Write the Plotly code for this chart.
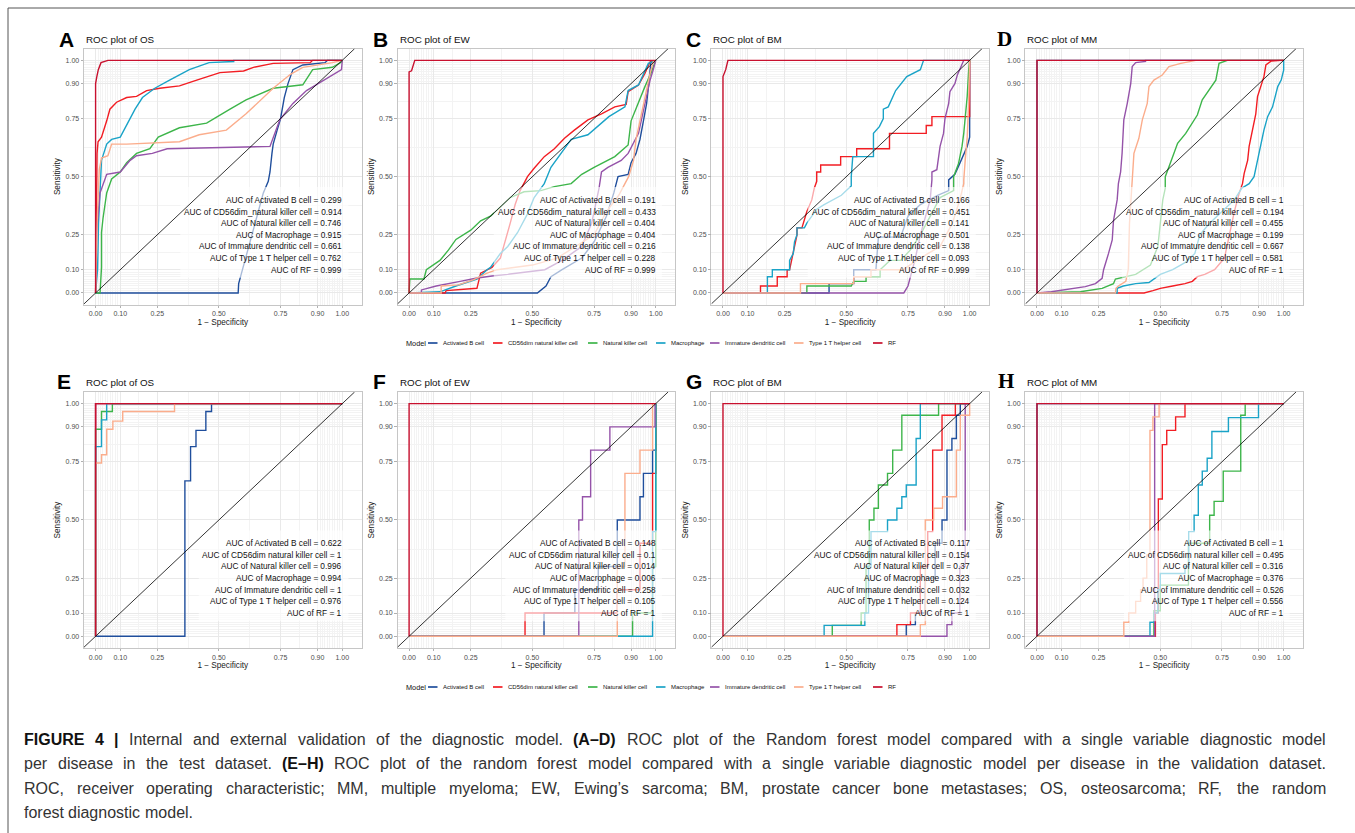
import plotly.graph_objects as go

# ---------------- data ----------------
series_names = ["Activated B cell", "CD56dim natural killer cell", "Natural killer cell",
                "Macrophage", "Immature dendritic cell", "Type 1 T helper cell", "RF"]
series_colors = ["#1f4e9c", "#f21d23", "#3db54a", "#1aa3c7", "#9553a9", "#fbad8c", "#c8102e"]
auc_names_test = ["Activated B cell", "CD56dim_natural killer cell", "Natural killer cell",
                  "Macrophage", "Immature dendritic cell", "Type 1 T helper cell", "RF"]
auc_names_valid = ["Activated B cell", "CD56dim natural killer cell", "Natural killer cell",
                   "Macrophage", "Immature dendritic cell", "Type 1 T helper cell", "RF"]
panel_letters = ["A", "B", "C", "D", "E", "F", "G", "H"]
panel_titles = ["ROC plot of OS", "ROC plot of EW", "ROC plot of BM", "ROC plot of MM",
                "ROC plot of OS", "ROC plot of EW", "ROC plot of BM", "ROC plot of MM"]
tick_vals = [0, 0.10, 0.25, 0.50, 0.75, 0.90, 1.00]
tick_text = ["0.00", "0.10", "0.25", "0.50", "0.75", "0.90", "1.00"]
minor_vals = [0.01, 0.02, 0.03, 0.04, 0.05, 0.06, 0.07, 0.08, 0.09, 0.175, 0.375, 0.625, 0.825,
              0.91, 0.92, 0.93, 0.94, 0.95, 0.96, 0.97, 0.98, 0.99]

auc_A = ["0.299", "0.914", "0.746", "0.915", "0.661", "0.762", "0.999"]
auc_B = ["0.191", "0.433", "0.404", "0.404", "0.216", "0.228", "0.999"]
auc_C = ["0.166", "0.451", "0.141", "0.501", "0.138", "0.093", "0.999"]
auc_D = ["1", "0.194", "0.455", "0.199", "0.667", "0.581", "1"]
auc_E = ["0.622", "1", "0.996", "0.994", "1", "0.976", "1"]
auc_F = ["0.148", "0.1", "0.014", "0.006", "0.258", "0.105", "1"]
auc_G = ["0.117", "0.154", "0.37", "0.323", "0.032", "0.124", "1"]
auc_H = ["1", "0.495", "0.316", "0.376", "0.526", "0.556", "1"]

# ROC curves as (1 - specificity, sensitivity)
A_B = [(0,0),(0.578,0),(0.58,0.04),(0.60,0.12),(0.62,0.2),(0.64,0.28),(0.66,0.36),(0.68,0.43),(0.70,0.48),(0.707,0.52),(0.715,0.6),(0.72,0.64),(0.736,0.7),(0.75,0.75),(0.765,0.84),(0.78,0.9),(0.8,0.96),(0.84,0.98),(0.93,0.99),(0.94,1.0),(1,1)]
A_CD56 = [(0,0),(0.003,0.3),(0.006,0.6),(0.01,0.65),(0.024,0.67),(0.045,0.74),(0.058,0.79),(0.085,0.82),(0.126,0.84),(0.166,0.845),(0.207,0.87),(0.26,0.88),(0.34,0.89),(0.41,0.915),(0.504,0.947),(0.6,0.954),(0.64,0.97),(0.72,0.987),(0.87,0.99),(0.88,1.0),(1,1)]
A_NK = [(0,0),(0.018,0),(0.024,0.11),(0.024,0.26),(0.03,0.32),(0.045,0.43),(0.065,0.49),(0.1,0.52),(0.126,0.56),(0.166,0.6),(0.22,0.62),(0.254,0.67),(0.34,0.71),(0.45,0.73),(0.545,0.79),(0.61,0.83),(0.72,0.88),(0.84,0.895),(0.88,0.96),(0.96,0.97),(1.0,0.995),(1,1)]
A_Mac = [(0,0),(0.008,0.1),(0.012,0.3),(0.024,0.57),(0.045,0.64),(0.065,0.66),(0.1,0.67),(0.12,0.71),(0.16,0.79),(0.19,0.84),(0.24,0.88),(0.3,0.915),(0.38,0.96),(0.46,0.99),(0.56,0.995),(0.56,1.0),(1,1)]
A_iDC = [(0,0),(0.004,0.26),(0.018,0.43),(0.045,0.51),(0.1,0.52),(0.14,0.57),(0.166,0.59),(0.23,0.6),(0.29,0.62),(0.707,0.63),(0.747,0.745),(0.8,0.815),(0.855,0.87),(0.936,0.92),(0.997,0.96),(1,1)]
A_Th1 = [(0,0),(0.007,0.33),(0.015,0.53),(0.024,0.58),(0.05,0.59),(0.065,0.64),(0.126,0.64),(0.34,0.65),(0.42,0.68),(0.53,0.70),(0.61,0.77),(0.72,0.88),(0.79,0.94),(0.84,0.97),(0.96,0.99),(1,1)]
A_RF = [(0,0),(0,0.9),(0.005,0.93),(0.011,0.96),(0.022,0.99),(0.05,1.0),(1,1)]

B_B = [(0,0),(0.52,0),(0.555,0.03),(0.575,0.07),(0.62,0.1),(0.7,0.15),(0.75,0.22),(0.8,0.33),(0.83,0.43),(0.847,0.5),(0.888,0.51),(0.9,0.56),(0.92,0.6),(0.936,0.66),(0.95,0.74),(0.963,0.815),(0.973,0.915),(0.98,0.99),(1,1)]
B_CD56 = [(0,0),(0.146,0),(0.15,0.01),(0.275,0.02),(0.29,0.085),(0.336,0.11),(0.37,0.15),(0.39,0.22),(0.41,0.3),(0.43,0.38),(0.45,0.44),(0.47,0.48),(0.48,0.5),(0.507,0.536),(0.548,0.586),(0.589,0.62),(0.63,0.665),(0.67,0.70),(0.725,0.744),(0.78,0.77),(0.834,0.8),(0.88,0.81),(0.888,0.865),(0.93,0.894),(0.956,0.944),(0.977,0.994),(1,1)]
B_NK = [(0,0),(0,0.04),(0.003,0.06),(0.06,0.06),(0.07,0.1),(0.125,0.14),(0.16,0.185),(0.19,0.23),(0.25,0.27),(0.29,0.31),(0.33,0.33),(0.37,0.37),(0.41,0.41),(0.466,0.435),(0.534,0.44),(0.589,0.457),(0.657,0.47),(0.7,0.51),(0.75,0.54),(0.834,0.586),(0.888,0.636),(0.9,0.74),(0.93,0.82),(0.956,0.887),(0.98,0.944),(1.0,1.0)]
B_Mac = [(0,0),(0.125,0.005),(0.19,0.03),(0.275,0.06),(0.316,0.1),(0.33,0.11),(0.37,0.17),(0.4,0.2),(0.44,0.26),(0.48,0.34),(0.507,0.41),(0.548,0.47),(0.575,0.54),(0.616,0.6),(0.657,0.66),(0.725,0.68),(0.81,0.758),(0.875,0.8),(0.888,0.87),(0.93,0.894),(0.97,0.987),(1,1)]
B_iDC = [(0,0),(0.05,0),(0.05,0.013),(0.11,0.03),(0.207,0.05),(0.27,0.063),(0.336,0.073),(0.4,0.08),(0.55,0.1),(0.62,0.14),(0.7,0.2),(0.74,0.3),(0.76,0.4),(0.77,0.45),(0.78,0.52),(0.806,0.54),(0.86,0.57),(0.888,0.6),(0.93,0.686),(0.956,0.815),(0.977,0.915),(0.99,0.96),(1,1)]
B_Th1 = [(0,0),(0.13,0.0),(0.13,0.03),(0.2,0.035),(0.26,0.056),(0.316,0.085),(0.357,0.1),(0.5,0.12),(0.6,0.15),(0.75,0.25),(0.8,0.35),(0.85,0.42),(0.875,0.47),(0.89,0.5),(0.91,0.57),(0.92,0.66),(0.936,0.74),(0.956,0.84),(0.977,0.944),(0.99,0.994),(1,1)]
B_RF = [(0,0),(0,0.95),(0.01,0.955),(0.023,1.0),(1,1)]

C_B = [(0,0),(0.43,0),(0.43,0.04),(0.53,0.04),(0.53,0.1),(0.62,0.1),(0.63,0.24),(0.72,0.24),(0.75,0.33),(0.8,0.38),(0.87,0.42),(0.915,0.44),(0.915,0.486),(0.94,0.51),(0.96,0.557),(0.976,0.6),(0.99,0.63),(1.0,0.67),(1,1)]
C_CD56 = [(0,0),(0.152,0),(0.152,0.03),(0.22,0.03),(0.22,0.07),(0.26,0.07),(0.26,0.1),(0.27,0.1),(0.28,0.15),(0.29,0.2),(0.3,0.25),(0.3,0.28),(0.32,0.28),(0.34,0.35),(0.36,0.4),(0.37,0.45),(0.38,0.48),(0.38,0.52),(0.396,0.52),(0.396,0.55),(0.477,0.55),(0.477,0.586),(0.542,0.586),(0.542,0.62),(0.675,0.62),(0.675,0.686),(0.824,0.686),(0.824,0.72),(0.847,0.72),(0.847,0.758),(1.0,0.758),(1,1)]
C_NK = [(0,0),(0.34,0),(0.34,0.03),(0.52,0.03),(0.53,0.05),(0.58,0.05),(0.58,0.07),(0.637,0.07),(0.637,0.1),(0.677,0.14),(0.72,0.14),(0.76,0.185),(0.8,0.25),(0.84,0.33),(0.88,0.41),(0.935,0.44),(0.935,0.5),(0.955,0.557),(0.969,0.63),(0.976,0.686),(0.982,0.758),(0.99,0.844),(0.996,0.958),(1,1)]
C_Mac = [(0,0),(0.18,0),(0.18,0.07),(0.2,0.07),(0.2,0.1),(0.27,0.1),(0.27,0.14),(0.285,0.17),(0.29,0.22),(0.3,0.25),(0.3,0.28),(0.33,0.28),(0.34,0.3),(0.38,0.36),(0.41,0.38),(0.48,0.42),(0.5,0.44),(0.52,0.46),(0.52,0.5),(0.526,0.586),(0.61,0.586),(0.61,0.686),(0.634,0.715),(0.65,0.75),(0.65,0.79),(0.67,0.8),(0.7,0.87),(0.745,0.93),(0.8,0.96),(0.813,1.0),(1,1)]
C_iDC = [(0,0),(0.733,0),(0.75,0.03),(0.76,0.07),(0.77,0.1),(0.78,0.15),(0.8,0.25),(0.82,0.33),(0.84,0.4),(0.847,0.486),(0.847,0.52),(0.867,0.53),(0.88,0.63),(0.894,0.686),(0.9,0.75),(0.915,0.815),(0.92,0.865),(0.94,0.9),(0.95,0.937),(0.962,0.966),(0.976,1.0),(1,1)]
C_Th1 = [(0,0),(0.314,0),(0.314,0.04),(0.53,0.04),(0.53,0.07),(0.6,0.07),(0.6,0.1),(0.73,0.1),(0.8,0.15),(0.88,0.2),(0.93,0.3),(0.96,0.4),(0.976,0.47),(0.976,0.486),(0.982,0.57),(0.99,0.67),(0.996,0.815),(1.0,0.96),(1,1)]
C_RF = [(0,0),(0,0.93),(0.011,0.96),(0.02,1.0),(1,1)]

D_B = [(0,0),(0,1),(1,1)]
D_CD56 = [(0,0),(0.434,0),(0.47,0.01),(0.5,0.02),(0.55,0.03),(0.6,0.04),(0.63,0.05),(0.65,0.07),(0.68,0.08),(0.72,0.1),(0.76,0.15),(0.78,0.25),(0.8,0.35),(0.82,0.43),(0.833,0.47),(0.84,0.514),(0.854,0.57),(0.86,0.63),(0.874,0.7),(0.887,0.77),(0.894,0.844),(0.908,0.887),(0.92,0.93),(0.928,0.98),(0.95,0.997),(0.99,1.0),(1,1)]
D_NK = [(0,0),(0.176,0.005),(0.264,0.02),(0.31,0.04),(0.318,0.06),(0.36,0.07),(0.4,0.08),(0.46,0.12),(0.49,0.2),(0.5,0.3),(0.51,0.4),(0.52,0.45),(0.52,0.5),(0.54,0.557),(0.556,0.6),(0.57,0.643),(0.603,0.686),(0.63,0.73),(0.65,0.765),(0.67,0.83),(0.698,0.872),(0.725,0.915),(0.738,0.987),(0.772,1.0),(1,1)]
D_Mac = [(0,0),(0.325,0),(0.325,0.02),(0.35,0.03),(0.4,0.04),(0.454,0.045),(0.5,0.08),(0.55,0.1),(0.6,0.13),(0.64,0.17),(0.66,0.25),(0.7,0.3),(0.75,0.35),(0.8,0.4),(0.83,0.45),(0.86,0.47),(0.88,0.5),(0.894,0.57),(0.908,0.63),(0.92,0.7),(0.935,0.758),(0.955,0.8),(0.976,0.887),(0.99,0.915),(1.0,0.958),(1,1)]
D_iDC = [(0,0),(0.058,0.005),(0.196,0.027),(0.237,0.04),(0.264,0.063),(0.27,0.1),(0.29,0.17),(0.305,0.228),(0.31,0.31),(0.325,0.4),(0.33,0.47),(0.339,0.52),(0.345,0.6),(0.352,0.744),(0.366,0.815),(0.38,0.9),(0.386,0.973),(0.4,0.99),(0.44,0.995),(0.44,1.0),(1,1)]
D_Th1 = [(0,0),(0.318,0),(0.32,0.02),(0.33,0.03),(0.36,0.05),(0.37,0.1),(0.375,0.3),(0.38,0.4),(0.385,0.45),(0.386,0.5),(0.393,0.6),(0.413,0.665),(0.427,0.744),(0.447,0.815),(0.454,0.887),(0.474,0.915),(0.508,0.937),(0.535,0.973),(0.583,0.987),(0.644,1.0),(1,1)]
D_RF = [(0,0),(0,1),(1,1)]

E_B = [(0,0),(0.362,0),(0.362,0.668),(0.385,0.668),(0.385,0.815),(0.407,0.815),(0.407,0.885),(0.447,0.885),(0.447,0.966),(0.47,0.966),(0.47,1.0),(1,1)]
E_CD56 = [(0,0),(0,1),(1,1)]
E_NK = [(0,0),(0,0.89),(0.024,0.89),(0.024,0.966),(0.068,0.966),(0.068,1.0),(1,1)]
E_Mac = [(0,0),(0,0.815),(0.024,0.815),(0.024,0.93),(0.045,0.93),(0.045,1.0),(1,1)]
E_iDC = [(0,0),(0,1),(1,1)]
E_Th1 = [(0,0),(0,0.745),(0.024,0.745),(0.024,0.78),(0.045,0.78),(0.045,0.89),(0.07,0.89),(0.07,0.925),(0.11,0.925),(0.11,0.966),(0.32,0.966),(0.32,1.0),(1,1)]
E_RF = [(0,0),(0,1),(1,1)]

F_B = [(0,0),(0.547,0),(0.547,0.1),(0.672,0.1),(0.672,0.2),(0.767,0.2),(0.767,0.3),(0.844,0.3),(0.844,0.5),(0.936,0.5),(0.936,0.6),(0.95,0.6),(0.95,0.7),(0.987,0.7),(0.987,0.8),(1.0,0.8),(1,1)]
F_CD56 = [(0,0),(0.47,0),(0.47,0.1),(0.844,0.1),(0.844,0.2),(0.936,0.2),(0.936,0.4),(0.987,0.4),(0.987,0.7),(1.0,0.7),(1,1)]
F_NK = [(0,0),(0.906,0),(0.906,0.1),(0.987,0.1),(0.987,0.3),(1.0,0.3),(1,1)]
F_Mac = [(0,0),(0.987,0),(0.987,0.45),(1.0,0.45),(1,1)]
F_iDC = [(0,0),(0.688,0),(0.688,0.5),(0.703,0.5),(0.703,0.6),(0.736,0.6),(0.736,0.8),(0.814,0.8),(0.814,0.9),(0.997,0.9),(0.997,1.0),(1,1)]
F_Th1 = [(0,0),(0.844,0),(0.844,0.3),(0.875,0.3),(0.875,0.7),(0.936,0.7),(0.936,0.8),(0.987,0.8),(0.987,1.0),(1,1)]
F_RF = [(0,0),(0,1),(1,1)]

G_B = [(0,0),(0.743,0),(0.743,0.05),(0.78,0.05),(0.78,0.1),(0.82,0.1),(0.82,0.25),(0.86,0.25),(0.86,0.4),(0.888,0.4),(0.888,0.5),(0.908,0.5),(0.908,0.8),(0.928,0.8),(0.928,0.85),(0.946,0.85),(0.946,0.95),(0.962,0.95),(0.962,1.0),(1,1)]
G_CD56 = [(0,0),(0.705,0),(0.705,0.05),(0.76,0.05),(0.76,0.1),(0.8,0.1),(0.8,0.3),(0.83,0.3),(0.83,0.45),(0.85,0.45),(0.85,0.8),(0.888,0.8),(0.888,0.95),(0.942,0.95),(0.942,1.0),(1,1)]
G_NK = [(0,0),(0.443,0),(0.443,0.047),(0.56,0.047),(0.56,0.1),(0.58,0.1),(0.58,0.3),(0.593,0.3),(0.593,0.5),(0.612,0.5),(0.612,0.55),(0.63,0.55),(0.63,0.65),(0.667,0.65),(0.667,0.7),(0.688,0.7),(0.688,0.8),(0.725,0.8),(0.725,0.95),(0.874,0.95),(0.874,1.0),(1,1)]
G_Mac = [(0,0),(0.41,0),(0.41,0.047),(0.575,0.047),(0.575,0.1),(0.59,0.1),(0.59,0.3),(0.6,0.3),(0.6,0.45),(0.667,0.45),(0.667,0.5),(0.705,0.5),(0.705,0.55),(0.725,0.55),(0.725,0.6),(0.743,0.6),(0.743,0.65),(0.783,0.65),(0.783,0.85),(0.8,0.85),(0.8,1.0),(1,1)]
G_iDC = [(0,0),(0.908,0),(0.908,0.05),(0.928,0.05),(0.928,0.1),(0.96,0.1),(0.96,0.3),(0.982,0.3),(0.982,1.0),(1,1)]
G_Th1 = [(0,0),(0.8,0),(0.8,0.05),(0.82,0.05),(0.82,0.5),(0.854,0.5),(0.854,0.55),(0.89,0.55),(0.89,0.6),(0.946,0.6),(0.946,0.8),(0.962,0.8),(0.962,0.95),(1.0,0.95),(1,1)]
G_RF = [(0,0),(0,1),(1,1)]

H_B = [(0,0),(0,1),(1,1)]
H_CD56 = [(0,0),(0.48,0),(0.48,0.1),(0.492,0.1),(0.492,0.59),(0.508,0.59),(0.508,0.824),(0.526,0.824),(0.526,0.885),(0.562,0.885),(0.562,0.943),(0.6,0.943),(0.6,1.0),(1,1)]
H_NK = [(0,0),(0.474,0),(0.474,0.11),(0.5,0.11),(0.5,0.22),(0.614,0.22),(0.614,0.4),(0.7,0.4),(0.7,0.52),(0.718,0.52),(0.718,0.58),(0.755,0.58),(0.755,0.71),(0.826,0.71),(0.826,0.95),(0.844,0.95),(0.844,1.0),(1,1)]
H_Mac = [(0,0),(0.458,0),(0.458,0.06),(0.475,0.06),(0.475,0.1),(0.49,0.1),(0.49,0.2),(0.5,0.2),(0.5,0.27),(0.6,0.27),(0.6,0.3),(0.615,0.3),(0.615,0.45),(0.637,0.45),(0.637,0.52),(0.654,0.52),(0.654,0.65),(0.67,0.65),(0.67,0.71),(0.69,0.71),(0.69,0.765),(0.709,0.765),(0.709,0.88),(0.776,0.88),(0.776,0.94),(0.898,0.94),(0.898,1.0),(1,1)]
H_iDC = [(0,0),(0.477,0),(0.477,1.0),(1,1)]
H_Th1 = [(0,0),(0.352,0),(0.352,0.06),(0.372,0.06),(0.372,0.1),(0.4,0.1),(0.4,0.15),(0.42,0.15),(0.42,0.2),(0.43,0.2),(0.43,0.25),(0.445,0.25),(0.445,0.35),(0.458,0.35),(0.458,0.885),(0.47,0.885),(0.47,0.943),(0.495,0.943),(0.495,1.0),(1,1)]
H_RF = [(0,0),(0,1),(1,1)]

# caption: lines of (text, bold) segments; lines 1-3 are justified
caption_line1 = [("FIGURE 4 |", True), ("Internal and external validation of the diagnostic model.", False),
                 ("(A–D)", True), ("ROC plot of the Random forest model compared with a single variable diagnostic model", False)]
caption_line2 = [("per disease in the test dataset.", False), ("(E–H)", True),
                 ("ROC plot of the random forest model compared with a single variable diagnostic model per disease in the validation dataset.", False)]
caption_line3 = [("ROC, receiver operating characteristic; MM, multiple myeloma; EW, Ewing’s sarcoma; BM, prostate cancer bone metastases; OS, osteosarcoma; RF, the random", False)]
caption_line4 = [("forest diagnostic model.", False)]

panel_curves = [
    [A_B, A_CD56, A_NK, A_Mac, A_iDC, A_Th1, A_RF],
    [B_B, B_CD56, B_NK, B_Mac, B_iDC, B_Th1, B_RF],
    [C_B, C_CD56, C_NK, C_Mac, C_iDC, C_Th1, C_RF],
    [D_B, D_CD56, D_NK, D_Mac, D_iDC, D_Th1, D_RF],
    [E_B, E_CD56, E_NK, E_Mac, E_iDC, E_Th1, E_RF],
    [F_B, F_CD56, F_NK, F_Mac, F_iDC, F_Th1, F_RF],
    [G_B, G_CD56, G_NK, G_Mac, G_iDC, G_Th1, G_RF],
    [H_B, H_CD56, H_NK, H_Mac, H_iDC, H_Th1, H_RF],
]
panel_aucs = [auc_A, auc_B, auc_C, auc_D, auc_E, auc_F, auc_G, auc_H]

# ---------------- layout constants (pixels) ----------------
W, H = 1355, 833
FONT = "Liberation Sans, Arial, Helvetica, sans-serif"
SERIF = "Liberation Serif, Times New Roman, serif"
lefts = [84.0, 397.5, 711.4, 1025.4]
pw = 277.5
row_tops = [48.7, 392.0]
ph = 255.9
xr = [-0.047, 1.078]
yr = [-0.05, 1.05]
ppu = pw / (xr[1] - xr[0])
letter_cx = [66, 380.3, 693.8, 1004.5, 63.7, 379, 694.3, 1006]
row_title_y = [39.5, 381.5]
legend_y = [343, 687]
legend_line_x = [428, 493, 588, 656, 710, 794, 873]
caption_y = [739, 763.5, 788, 812.5]
caption_left, caption_right = 24.0, 1326.0
CAP_FS = 16
AUC_FS = 8.3

_AW = {' ': 278, '.': 278, '=': 584, '_': 556, '-': 333, ',': 278, ';': 278, ':': 278,
       '(': 333, ')': 333, '–': 556, '’': 222, '|': 260}
for _c in '0123456789':
    _AW[_c] = 556
_AW.update(dict(A=667, B=667, C=722, D=722, E=667, F=611, G=778, H=722, I=278, J=500, K=667, L=556,
                M=833, N=722, O=778, P=667, Q=778, R=722, S=667, T=611, U=722, V=667, W=944, X=667,
                Y=667, Z=611))
_AW.update(dict(a=556, b=556, c=500, d=556, e=556, f=278, g=556, h=556, i=222, j=222, k=500, l=222,
                m=833, n=556, o=556, p=556, q=556, r=333, s=500, t=278, u=556, v=500, w=722, x=500,
                y=500, z=500))
_AWB = {' ': 278, '|': 280, '(': 333, ')': 333, '–': 556, '4': 556, 'F': 611, 'I': 278, 'G': 778,
        'U': 722, 'R': 722, 'E': 667, 'A': 722, 'D': 722, 'H': 722}


def text_px(s, size, bold=False):
    tab = _AWB if bold else _AW
    return sum(tab.get(ch, _AW.get(ch, 556)) for ch in s) / 1000.0 * size


def px_x(p):
    return p / W


def px_y(p):
    return 1 - p / H


fig = go.Figure()
shapes = []
annotations = []
layout_axes = {}

for i in range(8):
    row, col = divmod(i, 4)
    n = i + 1
    sfx = "" if n == 1 else str(n)
    xref, yref = "x" + sfx, "y" + sfx
    top = row_tops[row]
    xd = [px_x(lefts[col]), px_x(lefts[col] + pw)]
    yd = [px_y(top + ph), px_y(top)]
    common = dict(
        tickmode="array", tickvals=tick_vals, ticktext=tick_text,
        tickfont=dict(family=FONT, size=7, color="#4d4d4d"),
        ticks="outside", ticklen=2.5, tickwidth=0.6, tickcolor="#b0b0b0",
        showgrid=True, gridcolor="#e9e9e9", gridwidth=0.7, zeroline=False,
        showline=True, mirror=True, linecolor="#c6c6c6", linewidth=0.8,
        minor=dict(tickmode="array", tickvals=minor_vals, showgrid=True,
                   gridcolor="#f3f3f3", gridwidth=0.5, ticks=""),
        fixedrange=True,
    )
    xa = dict(common)
    xa.update(domain=xd, range=xr, anchor=yref,
              title=dict(text="1 − Specificity", font=dict(family=FONT, size=8.2, color="#1a1a1a"), standoff=2))
    ya = dict(common)
    ya.update(domain=yd, range=yr, anchor=xref,
              title=dict(text="Sensitivity", font=dict(family=FONT, size=8.2, color="#1a1a1a"), standoff=3))
    layout_axes["xaxis" + sfx] = xa
    layout_axes["yaxis" + sfx] = ya

    curves = panel_curves[i]
    for k, pts in enumerate(curves):
        fig.add_trace(go.Scatter(
            x=[p[0] for p in pts], y=[p[1] for p in pts], mode="lines",
            line=dict(color=series_colors[k], width=1.4),
            name=series_names[k], showlegend=False,
            xaxis=xref, yaxis=yref,
        ))

    names = auc_names_test if row == 0 else auc_names_valid
    aucs = panel_aucs[i]
    texts = ["AUC of %s = %s" % (nm, a) for nm, a in zip(names, aucs)]
    maxw = max(text_px(t, AUC_FS) for t in texts)
    box_left = 1.0 - (maxw + 4) / ppu
    # translucent white label box (over the curves, under the diagonal)
    shapes.append(dict(type="rect", xref=xref, yref=yref, x0=box_left, x1=1.025, y0=0.065, y1=0.455,
                       fillcolor="rgba(255,255,255,0.62)", line=dict(width=0), layer="above"))
    # chance diagonal
    shapes.append(dict(type="line", xref=xref, yref=yref, x0=-0.047, y0=-0.047, x1=1.05, y1=1.05,
                       line=dict(color="#000000", width=0.8), layer="above"))
    for k, t in enumerate(texts):
        annotations.append(dict(text=t, xref=xref, yref=yref, x=1.0 + 2.0 / ppu, y=0.40 - 0.05 * k,
                                xanchor="right", yanchor="middle", showarrow=False,
                                font=dict(family=FONT, size=AUC_FS, color="#111111")))

    # panel letter and title
    serif = panel_letters[i] in ("D", "H")
    annotations.append(dict(text="<b>%s</b>" % panel_letters[i], xref="paper", yref="paper",
                            x=px_x(letter_cx[i]), y=px_y(row_title_y[row]), xanchor="center", yanchor="middle",
                            showarrow=False,
                            font=dict(family=SERIF if serif else FONT, size=21, color="#000000")))
    annotations.append(dict(text=panel_titles[i], xref="paper", yref="paper",
                            x=px_x(lefts[col]), y=px_y(row_title_y[row] + 0.5), xanchor="left", yanchor="middle",
                            showarrow=False, font=dict(family=FONT, size=9.8, color="#111111")))

# legends (one under each row)
for ly in legend_y:
    annotations.append(dict(text="Model", xref="paper", yref="paper", x=px_x(404), y=px_y(ly),
                            xanchor="left", yanchor="middle", showarrow=False,
                            font=dict(family=FONT, size=7.3, color="#111111")))
    for k, name in enumerate(series_names):
        x0 = legend_line_x[k]
        shapes.append(dict(type="line", xref="paper", yref="paper", x0=px_x(x0), x1=px_x(x0 + 9.5),
                           y0=px_y(ly), y1=px_y(ly), line=dict(color=series_colors[k], width=1.7)))
        annotations.append(dict(text=name, xref="paper", yref="paper", x=px_x(x0 + 13), y=px_y(ly),
                                xanchor="left", yanchor="middle", showarrow=False,
                                font=dict(family=FONT, size=6, color="#111111")))

# caption, laid out word by word (justified except the last line)
caption_lines = [caption_line1, caption_line2, caption_line3, caption_line4]
for li, (segs, cy) in enumerate(zip(caption_lines, caption_y)):
    words = []
    for txt, bold in segs:
        for w in txt.split(" "):
            if w:
                words.append((w, bold))
    widths = [text_px(w, CAP_FS, b) for w, b in words]
    if li < len(caption_lines) - 1 and len(words) > 1:
        gap = (caption_right - caption_left - sum(widths)) / (len(words) - 1)
    else:
        gap = text_px(" ", CAP_FS)
    xpos = caption_left
    for (w, b), wd in zip(words, widths):
        annotations.append(dict(text=("<b>%s</b>" % w) if b else w, xref="paper", yref="paper",
                                x=px_x(xpos - 2), y=px_y(cy), xanchor="left", yanchor="middle",
                                showarrow=False,
                                font=dict(family=FONT, size=CAP_FS, color="#111111" if b else "#333333")))
        xpos += wd + gap

# outer frame (top and left edges)
shapes.append(dict(type="line", xref="paper", yref="paper", x0=px_x(8), x1=px_x(1400), y0=px_y(8), y1=px_y(8),
                   line=dict(color="#555555", width=1)))
shapes.append(dict(type="line", xref="paper", yref="paper", x0=px_x(8), x1=px_x(8), y0=px_y(8), y1=px_y(900),
                   line=dict(color="#555555", width=1)))

fig.update_layout(
    width=W, height=H, margin=dict(l=0, r=0, t=0, b=0),
    paper_bgcolor="white", plot_bgcolor="white",
    showlegend=False, shapes=shapes, annotations=annotations,
    font=dict(family=FONT),
    **layout_axes,
)

fig.write_html("out.html")
